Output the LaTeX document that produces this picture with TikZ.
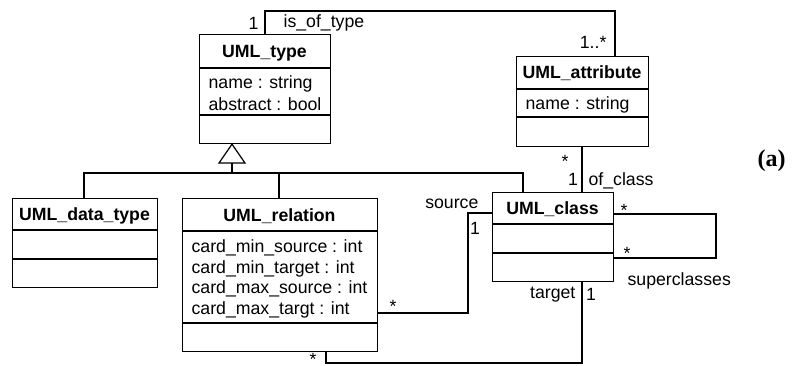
\documentclass[tikz,border=0pt]{standalone}
\usepackage{fontspec}
\setmainfont{Liberation Sans}
\newfontfamily\serifbf{Liberation Serif}
\begin{document}
\begin{tikzpicture}[x=1pt,y=-1pt, line width=1.2pt,
  box/.style={draw, rectangle, inner sep=0pt, anchor=north west},
  ttl/.style={font=\fontsize{17.7}{20}\selectfont\bfseries, inner sep=0pt, anchor=base},
  attr/.style={font=\fontsize{17.7}{20}\selectfont, inner sep=0pt, anchor=base west},
  lbl/.style={font=\fontsize{17.7}{20}\selectfont, inner sep=0pt},
  ]
\useasboundingbox (0,0) rectangle (793,365);

% UML_type
\node[box, minimum width=131pt, minimum height=109pt] (type) at (199,34) {};
\draw (type.west |- 0,68) -- (type.east |- 0,68);
\draw (type.west |- 0,115) -- (type.east |- 0,115);
\node[ttl] (typeT) at (264.5,57.5) {UML\_type};
\node[attr] (typeA1) at (208,88) {name : string};
\node[attr] (typeA2) at (208,110) {abstract : bool};

% UML_attribute
\node[box, minimum width=132pt, minimum height=90pt] (attr) at (516,56) {};
\draw (attr.west |- 0,89) -- (attr.east |- 0,89);
\draw (attr.west |- 0,117) -- (attr.east |- 0,117);
\node[ttl] (attrT) at (582,78.5) {UML\_attribute};
\node[attr] (attrA1) at (525,109.5) {name : string};

% UML_data_type
\node[box, minimum width=145pt, minimum height=89pt] (dtype) at (12,198) {};
\draw (dtype.west |- 0,230) -- (dtype.east |- 0,230);
\draw (dtype.west |- 0,259) -- (dtype.east |- 0,259);
\node[ttl] (dtypeT) at (84.5,220) {UML\_data\_type};

% UML_relation
\node[box, minimum width=195pt, minimum height=153pt] (rel) at (182,198) {};
\draw (rel.west |- 0,231) -- (rel.east |- 0,231);
\draw (rel.west |- 0,323) -- (rel.east |- 0,323);
\node[ttl] (relT) at (279.5,221) {UML\_relation};
\node[attr] (relA1) at (191,252.5) {card\_min\_source : int};
\node[attr] (relA2) at (191,273) {card\_min\_target : int};
\node[attr] (relA3) at (191,293.5) {card\_max\_source : int};
\node[attr] (relA4) at (191,314) {card\_max\_targt : int};

% UML_class
\node[box, minimum width=121pt, minimum height=89pt] (cls) at (492,192) {};
\draw (cls.west |- 0,224) -- (cls.east |- 0,224);
\draw (cls.west |- 0,253) -- (cls.east |- 0,253);
\node[ttl] (clsT) at (552.5,214) {UML\_class};

% is_of_type
\draw (type.north -| 265,0) |- (615,11) -- (attr.north -| 615,0);
\node[lbl, anchor=base east] (m1) at (259,29) {1};
\node[lbl, anchor=base west] (n1) at (283,27) {is\_of\_type};
\node[lbl, anchor=base east] (m2) at (607,48) {1..*};

% generalization
\coordinate (apex) at (type.south -| 232,0);
\draw (apex) -- (219,163) -- (245,163) -- cycle;
\coordinate (g) at (232,173);
\draw (232,163) -- (g);
\draw (dtype.north -| 84,0) -- (84,173) -- (523,173) -- (cls.north -| 523,0);
\draw (rel.north -| 279,0) -- (279,173);

% of_class
\draw (attr.south -| 582,0) -- (cls.north -| 582,0);
\node[lbl, anchor=base] (m3) at (565,167) {*};
\node[lbl, anchor=base] (m4) at (573,185) {1};
\node[lbl, anchor=base west] (n2) at (588,185) {of\_class};

% source
\draw (rel.east |- 0,313) -| (468,213) -- (cls.west |- 0,213);
\node[lbl, anchor=base] (m5) at (393,312) {*};
\node[lbl, anchor=base] (m6) at (475,234) {1};
\node[lbl, anchor=base east] (n3) at (479,208) {source};

% target
\draw (rel.south -| 326,0) |- (582,363) -- (cls.south -| 582,0);
\node[lbl, anchor=base] (m7) at (313,365) {*};
\node[lbl, anchor=base east] (n4) at (576,298) {target};
\node[lbl, anchor=base] (m8) at (591,300) {1};

% superclasses
\draw (cls.east |- 0,214) -| (716,258) -- (cls.east |- 0,258);
\node[lbl, anchor=base] (m9) at (624,216) {*};
\node[lbl, anchor=base] (m10) at (627,259) {*};
\node[lbl, anchor=base west] (n5) at (627,285) {superclasses};

% (a)
\node[anchor=base west, inner sep=0pt, font=\serifbf\fontsize{24}{26}\selectfont\bfseries] (lab) at (757,166) {(a)};
\end{tikzpicture}
\end{document}
